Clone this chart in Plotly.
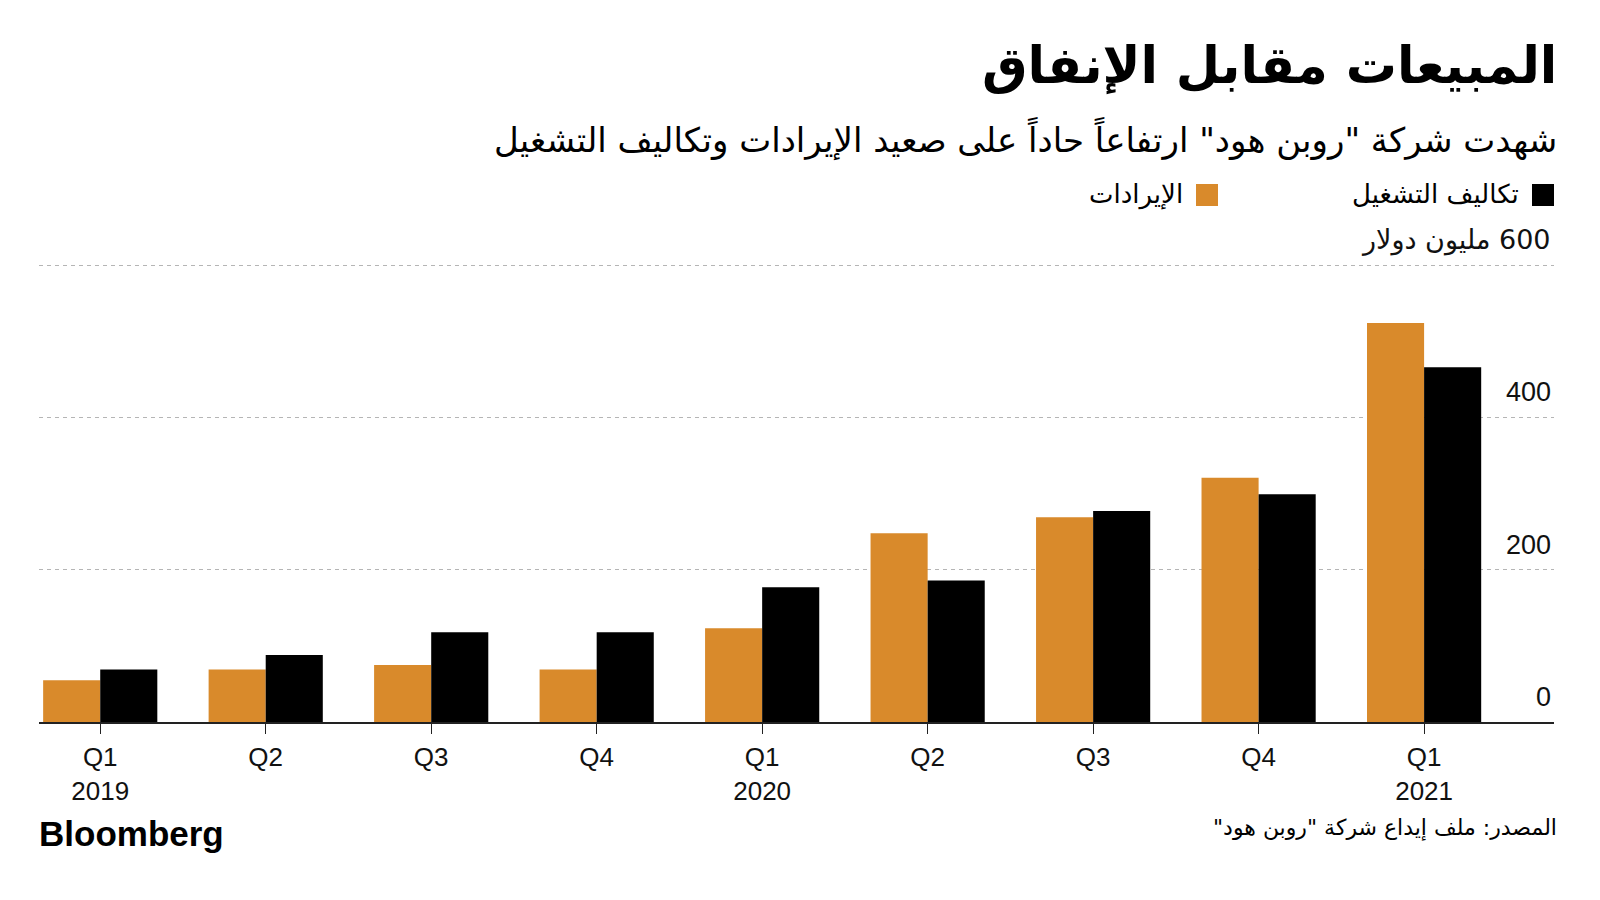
import plotly.graph_objects as go

# ---- data ----
quarters = ["Q1 2019", "Q2 2019", "Q3 2019", "Q4 2019", "Q1 2020", "Q2 2020", "Q3 2020", "Q4 2020", "Q1 2021"]
tick_labels = ["Q1<br>2019", "Q2", "Q3", "Q4", "Q1<br>2020", "Q2", "Q3", "Q4", "Q1<br>2021"]
revenue = [55, 69, 75, 69, 123, 248, 269, 321, 524]
op_costs = [69, 88, 118, 118, 177, 186, 277, 299, 466]
y_ticks = [0, 200, 400, 600]
y_tick_text = ["0", "200", "400", "\u200f600 مليون دولار"]

name_rev = "الإيرادات"
name_cost = "تكاليف التشغيل"
title = "المبيعات مقابل الإنفاق"
subtitle = 'شهدت شركة "روبن هود" ارتفاعاً حاداً على صعيد الإيرادات وتكاليف التشغيل'
source = 'المصدر: ملف إيداع شركة "روبن هود"'

ORANGE = "#D98A2B"
BLACK = "#000000"

W, H = 1600, 900
ML, MR, MT, MB = 39, 46, 250, 178
PW = W - ML - MR
PH = H - MT - MB


def px(x):
    return (x - ML) / PW


def py(y):
    return (H - MB - y) / PH


RLM = "\u200f"
AR_FONT = "DejaVu Sans"
LAT_FONT = "Liberation Sans"

fig = go.Figure()
fig.add_trace(go.Bar(x=quarters, y=revenue, name=name_rev, marker=dict(color=ORANGE, line=dict(width=0)), showlegend=False))
fig.add_trace(go.Bar(x=quarters, y=op_costs, name=name_cost, marker=dict(color=BLACK, line=dict(width=0)), showlegend=False))

fig.update_layout(
    width=W, height=H,
    margin=dict(l=ML, r=MR, t=MT, b=MB),
    paper_bgcolor="white", plot_bgcolor="white",
    barmode="group", bargap=0.31, bargroupgap=0,
    font=dict(family=LAT_FONT, color="#000"),
)

fig.update_xaxes(
    type="category",
    categoryorder="array", categoryarray=quarters,
    tickmode="array", tickvals=quarters, ticktext=tick_labels,
    range=[-0.37, 8.785],
    showline=True, linecolor="#222", linewidth=2,
    ticks="outside", ticklen=10, tickwidth=1, tickcolor="#222",
    ticklabelstandoff=1,
    tickfont=dict(family=LAT_FONT, size=26, color="#111"),
    showgrid=False, zeroline=False, fixedrange=True,
)
fig.update_yaxes(
    range=[0, 620],
    tickmode="array", tickvals=y_ticks[1:],
    showticklabels=False,
    showgrid=True, gridcolor="#b5b5b5", gridwidth=1, griddash="4px,4px",
    zeroline=False, showline=False, fixedrange=True,
)

ann = []
# y tick labels above gridlines (right side)
for v, t in zip(y_ticks, y_tick_text):
    ann.append(dict(x=px(1553), y=v, xref="paper", yref="y", text=t, showarrow=False,
                    xanchor="right", yanchor="middle", yshift=25,
                    font=dict(family=AR_FONT if v == 600 else LAT_FONT, size=27, color="#111")))

# title & subtitle
ann.append(dict(x=px(1559), y=py(66), xref="paper", yref="paper", text="<b>" + RLM + title + RLM + "</b>",
                showarrow=False, xanchor="right", yanchor="middle",
                font=dict(family=AR_FONT, size=51, color="#000")))
ann.append(dict(x=px(1559), y=py(138), xref="paper", yref="paper", text=RLM + subtitle + RLM,
                showarrow=False, xanchor="right", yanchor="middle",
                font=dict(family=AR_FONT, size=34, color="#000")))

# legend (RTL: square on the right of text)
shapes = []
legend_items = [(name_cost, BLACK, 1554), (name_rev, ORANGE, 1218)]
for name, col, right in legend_items:
    shapes.append(dict(type="rect", xref="paper", yref="paper",
                       x0=px(right - 22), x1=px(right), y0=py(206), y1=py(184),
                       fillcolor=col, line=dict(width=0)))
    ann.append(dict(x=px(right - 33), y=py(194), xref="paper", yref="paper", text=RLM + name + RLM,
                    showarrow=False, xanchor="right", yanchor="middle",
                    font=dict(family=AR_FONT, size=26, color="#000")))

# footer
ann.append(dict(x=px(37), y=py(833), xref="paper", yref="paper", text="<b>Bloomberg</b>",
                showarrow=False, xanchor="left", yanchor="middle",
                font=dict(family=LAT_FONT, size=35, color="#000")))
ann.append(dict(x=px(1559), y=py(828), xref="paper", yref="paper", text=RLM + source + RLM,
                showarrow=False, xanchor="right", yanchor="middle",
                font=dict(family=AR_FONT, size=22, color="#000")))

fig.update_layout(annotations=ann, shapes=shapes)

fig.write_html("out.html", config=dict(displayModeBar=False),
               post_script="document.body.style.margin='0';document.body.style.overflow='hidden';")
